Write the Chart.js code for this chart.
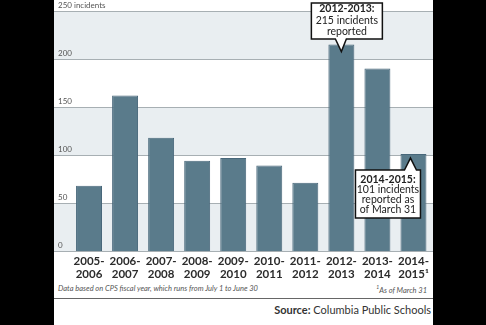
<!doctype html>
<html lang="en">
<head>
  <meta charset="utf-8">
  <title>CPS incidents</title>
  <style>
    * {
      margin: 0;
      padding: 0;
    }

    body {
      width: 486px;
      height: 325px;
      background: #000;
      overflow: hidden;
      font-family: Lato, sans-serif;
    }

    .card {
      position: absolute;
      left: 54px;
      top: 0;
      width: 379px;
      height: 325px;
      background: #fff;
    }

    .chartBox {
      position: absolute;
      left: 0;
      top: 0;
      width: 379px;
      height: 282px;
    }

    .note {
      position: absolute;
      top: 284px;
      font-size: 7.5px;
      font-style: italic;
      color: #555;
      white-space: nowrap;
    }

    .rule {
      position: absolute;
      left: 0;
      top: 298px;
      width: 379px;
      height: 1px;
      background: #666;
    }

    .source {
      position: absolute;
      right: 2px;
      top: 303px;
      font-size: 11px;
      color: #333;
      white-space: nowrap;
    }
  </style>
</head>
<body>
<div class="card">
  <div class="chartBox">
    <canvas id="myChart"></canvas>
  </div>
  <p class="note" style="left:4px">Data based on CPS fiscal year, which runs from July 1 to June 30</p>
  <p class="note" style="right:6px"><sup style="font-size:5px">1</sup>As of March 31</p>
  <div class="rule"></div>
  <p class="source"><b>Source:</b> Columbia Public Schools</p>
</div>
<script type="text/javascript" src="https://cdn.jsdelivr.net/npm/chart.js"></script>
<script>
  // data
  const years = [
    ['2005-', '2006'], ['2006-', '2007'], ['2007-', '2008'], ['2008-', '2009'], ['2009-', '2010'],
    ['2010-', '2011'], ['2011-', '2012'], ['2012-', '2013'], ['2013-', '2014'], ['2014-', '2015\u00b9']
  ];
  const incidents = [68, 162, 118, 94, 97, 89, 71, 215, 190, 101];
  const yTicks = [0, 50, 100, 150, 200, 250];
  const yTickLabels = ['0', '50', '100', '150', '200', '250 incidents'];

  const callouts = [
    {index: 7, lines: ['2012-2013:', '215 incidents', 'reported'], above: true},
    {index: 9, lines: ['2014-2015:', '101 incidents', 'reported as', 'of March 31'], above: false}
  ];

  // background bands, grid lines and y labels
  const bandsPlugin = {
    id: 'bands',
    beforeDatasetsDraw(chart) {
      const ctx = chart.ctx;
      const y = chart.scales.y;
      const w = chart.width;
      ctx.save();
      for (let i = 0; i < yTicks.length - 1; i++) {
        if (i % 2 === 0) {
          const top = y.getPixelForValue(yTicks[i + 1]);
          const bot = y.getPixelForValue(yTicks[i]);
          ctx.fillStyle = '#e9eef1';
          ctx.fillRect(0, top, w, bot - top);
        }
      }
      ctx.strokeStyle = '#a7afb3';
      ctx.lineWidth = 1;
      ctx.fillStyle = '#555';
      ctx.font = '8px Lato, sans-serif';
      ctx.textBaseline = 'alphabetic';
      yTicks.forEach((v, i) => {
        const py = Math.round(y.getPixelForValue(v)) + 0.5;
        ctx.beginPath();
        ctx.moveTo(0, py);
        ctx.lineTo(w, py);
        ctx.stroke();
        ctx.fillText(yTickLabels[i], 4, py - 3.5);
      });
      ctx.restore();
    }
  };

  // callout boxes
  const calloutPlugin = {
    id: 'callouts',
    afterDatasetsDraw(chart) {
      const ctx = chart.ctx;
      const x = chart.scales.x;
      const y = chart.scales.y;
      ctx.save();
      callouts.forEach(c => {
        const cx = x.getPixelForValue(c.index);
        const vy = y.getPixelForValue(incidents[c.index]);
        let bx, by, bw, bh, tipX, tipY;
        if (c.above) {
          bw = 71; bh = 36;
          bx = cx - 30; by = 3;
          tipX = cx; tipY = vy + 7;
        } else {
          bw = 65; bh = 48;
          bx = cx - 58; by = 170;
          tipX = cx - 3; tipY = vy + 4;
        }
        ctx.fillStyle = '#fff';
        ctx.strokeStyle = '#111';
        ctx.lineWidth = 1.5;
        ctx.lineJoin = 'miter';
        ctx.beginPath();
        if (c.above) {
          ctx.moveTo(bx, by);
          ctx.lineTo(bx + bw, by);
          ctx.lineTo(bx + bw, by + bh);
          ctx.lineTo(tipX + 5, by + bh);
          ctx.lineTo(tipX, tipY);
          ctx.lineTo(tipX - 6, by + bh);
          ctx.lineTo(bx, by + bh);
        } else {
          ctx.moveTo(bx, by);
          ctx.lineTo(tipX - 6, by);
          ctx.lineTo(tipX, tipY);
          ctx.lineTo(tipX + 6, by);
          ctx.lineTo(bx + bw, by);
          ctx.lineTo(bx + bw, by + bh);
          ctx.lineTo(bx, by + bh);
        }
        ctx.closePath();
        ctx.fill();
        ctx.stroke();

        ctx.fillStyle = '#222';
        ctx.textAlign = 'center';
        ctx.textBaseline = 'middle';
        const mid = bx + bw / 2;
        c.lines.forEach((t, i) => {
          ctx.font = (i === 0 ? 'bold ' : '') + '10.5px Lato, sans-serif';
          const ly = c.above ? by + 6 + i * 11.3 : by + 9.5 + i * 10.2;
          ctx.fillText(t, mid, ly);
        });
      });
      ctx.restore();
    }
  };

  const data = {
    labels: years,
    datasets: [{
      data: incidents,
      backgroundColor: '#5a7b8b',
      borderColor: '#48677a',
      borderWidth: 1,
      barPercentage: 0.72,
      categoryPercentage: 1
    }]
  };

  const config = {
    type: 'bar',
    data,
    plugins: [bandsPlugin, calloutPlugin],
    options: {
      responsive: true,
      maintainAspectRatio: false,
      animation: false,
      layout: {padding: {top: 11, right: 1, left: 0, bottom: 0}},
      plugins: {
        legend: {display: false},
        tooltip: {enabled: false}
      },
      scales: {
        x: {
          grid: {display: false, drawTicks: false},
          border: {display: false},
          ticks: {
            color: '#2b2b2b',
            font: {family: 'Lato', size: 11.5, weight: 'bold', lineHeight: 1.1},
            padding: 4,
            maxRotation: 0,
            autoSkip: false
          },
          afterFit(scale) {
            scale.height = 31;
          }
        },
        y: {
          min: 0,
          max: 250,
          grid: {display: false},
          border: {display: false},
          ticks: {display: false, stepSize: 50},
          afterFit(scale) {
            scale.width = 17;
          }
        }
      }
    }
  };

  const myChart = new Chart(document.getElementById('myChart'), config);
</script>
</body>
</html>
